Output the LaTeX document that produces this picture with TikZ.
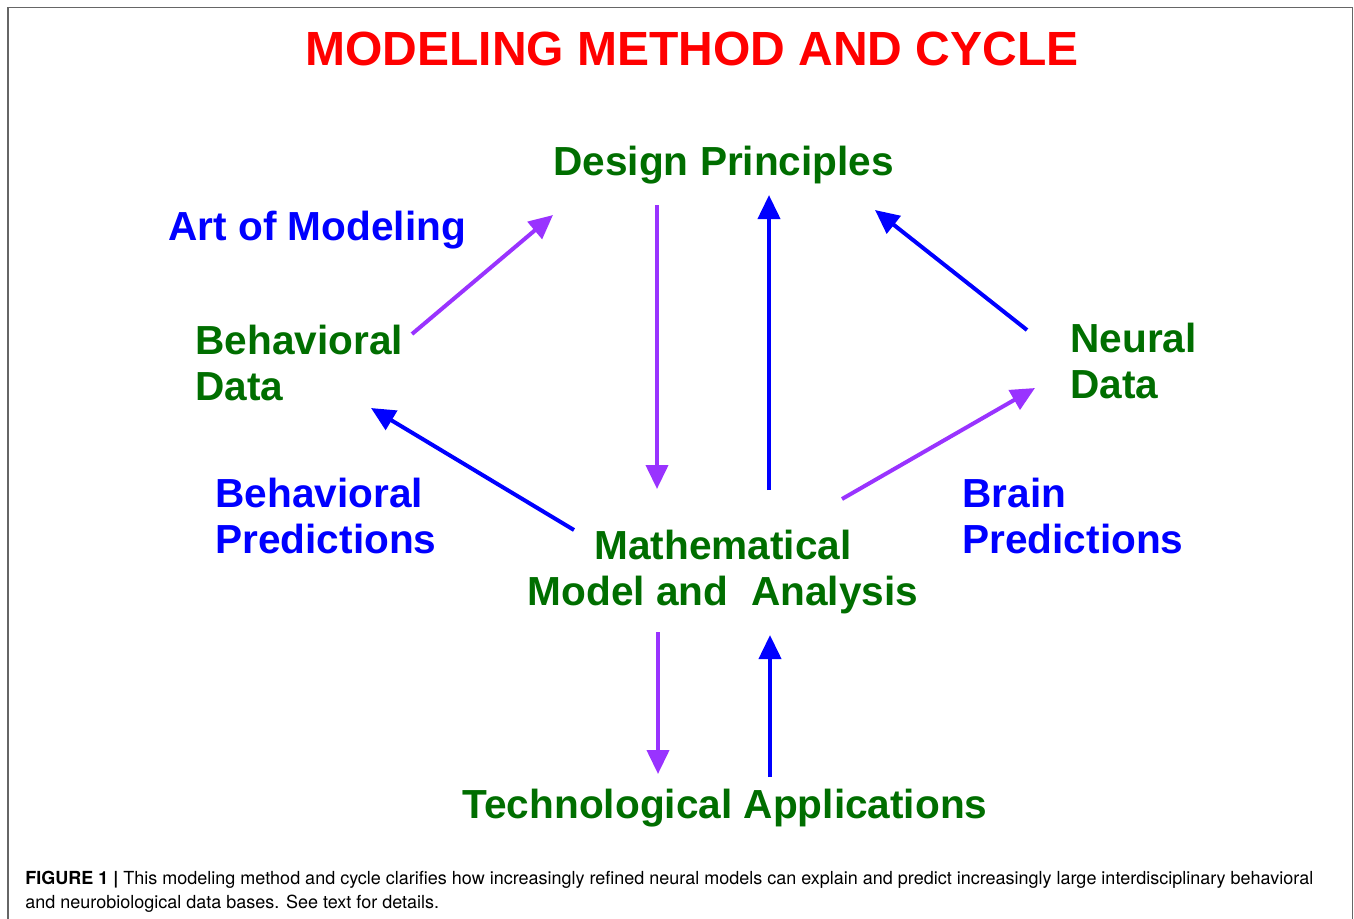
\documentclass[tikz,border=0pt]{standalone}
\usepackage{fontspec}
\setmainfont{Liberation Sans}
\newfontfamily\capfont{TeX Gyre Heros}
\usetikzlibrary{arrows.meta}

\definecolor{titlered}{RGB}{255,0,0}
\definecolor{labgreen}{RGB}{0,110,0}
\definecolor{labblue}{RGB}{0,0,255}
\definecolor{arrpurple}{RGB}{153,51,255}

\tikzset{
  lab/.style={inner sep=0pt, anchor=base west, align=left, font=\bfseries\fontsize{20.3}{23}\selectfont},
  grn/.style={lab, text=labgreen},
  blu/.style={lab, text=labblue},
  flow/.style={line width=2pt, -{Triangle[length=12pt,width=11pt]}},
  purp/.style={flow, draw=arrpurple},
  blue/.style={flow, draw=labblue},
}

\begin{document}
\begin{tikzpicture}[x=0.5pt,y=-0.5pt]
  \useasboundingbox (0,0) rectangle (1354,918);
  % frame
  \draw[gray!80!black, line width=0.75pt] (8,930) -- (8,7.5) -- (1352.5,7.5) -- (1352.5,930);

  \node[inner sep=0pt, anchor=base, text=titlered, font=\bfseries\fontsize{24}{28}\selectfont] (title) at (692,65) {MODELING METHOD AND CYCLE};

  % multi-line nodes sit on their last baseline
  \node[grn] (dp) at (553,175) {Design Principles};
  \node[blu] (art) at (168,240) {Art of Modeling};
  \node[grn] (bd) at (195,400) {Behavioral\\Data};
  \node[grn] (nd) at (1070,398) {Neural\\Data};
  \node[blu] (bp) at (215,553) {Behavioral\\Predictions};
  \node[blu] (brp) at (962,553) {Brain\\Predictions};
  \node[grn, align=center, anchor=base] (math) at (723,605) {Mathematical\\Model and\ \ Analysis};
  \node[grn, anchor=base] (tech) at (725,818) {Technological Applications};

  % arrow ends
  \coordinate (bd-out) at (412,334);
  \coordinate (dp-in1) at (553,215);
  \coordinate (dp-out1) at (657,205);
  \coordinate (math-in1) at (657,489);
  \coordinate (math-out1) at (769,490);
  \coordinate (dp-in2) at (769,195);
  \coordinate (nd-out) at (1027,330);
  \coordinate (dp-in3) at (875,210);
  \coordinate (math-out2) at (574,530);
  \coordinate (bd-in) at (371,408);
  \coordinate (math-out3) at (842,499);
  \coordinate (nd-in) at (1035,388);
  \coordinate (math-out4) at (658,632);
  \coordinate (tech-in) at (658,774);
  \coordinate (tech-out) at (770,777);
  \coordinate (math-in2) at (770,635);

  \draw[purp] (bd-out) -- (dp-in1);
  \draw[purp] (dp-out1) -- (math-in1);
  \draw[blue] (math-out1) -- (dp-in2);
  \draw[blue] (nd-out) -- (dp-in3);
  \draw[blue] (math-out2) -- (bd-in);
  \draw[purp] (math-out3) -- (nd-in);
  \draw[purp] (math-out4) -- (tech-in);
  \draw[blue] (tech-out) -- (math-in2);

  % caption
  \node[inner sep=0pt, anchor=base west, align=left, font=\capfont\fontsize{9}{12}\selectfont] (cap) at (25,908)
    {\textbf{FIGURE 1 |} This modeling method and cycle clarifies how increasingly refined neural models can explain and predict increasingly large interdisciplinary behavioral\\and neurobiological data bases. See text for details.};
\end{tikzpicture}
\end{document}
